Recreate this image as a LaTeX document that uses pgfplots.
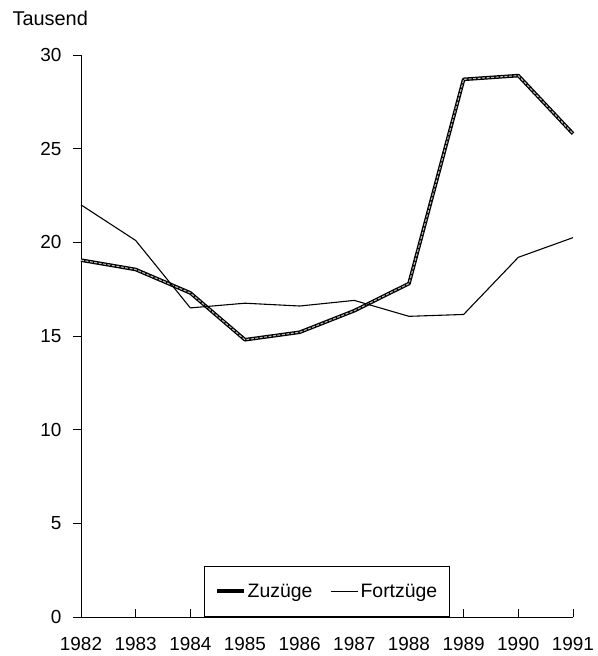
\documentclass[border=0pt]{standalone}
\usepackage{fontspec}
\setmainfont{Liberation Sans}
\usepackage{pgfplots}
\pgfplotsset{compat=1.18}
\begin{document}
\begin{tikzpicture}[x=1bp,y=1bp]
\begin{axis}[
  scale only axis,
  width=492bp, height=562bp,
  xmin=1982, xmax=1991,
  ymin=0, ymax=30,
  axis lines=left,
  axis line style={-, line width=0.7pt},
  xtick={1982,...,1991},
  ytick={0,5,...,30},
  xticklabel style={/pgf/number format/1000 sep={}, yshift=-17bp},
  yticklabel style={xshift=-8bp},
  /pgf/number format/assume math mode=true,
  tick label style={font=\fontsize{19}{21}\selectfont},
  xtick align=inside,
  ytick align=outside,
  major tick length=8bp,
  tick style={black, line width=0.6pt},
  clip=false,
  legend columns=2,
  legend style={at={(0.5,0)}, anchor=south, draw=black, line width=0.6pt,
    font=\fontsize{19.5}{21}\selectfont, inner xsep=10bp, inner ysep=16bp,
    /tikz/every even column/.append style={column sep=16bp}},
  legend image code/.code={\draw[#1] (0bp,0bp) -- (27bp,0bp);},
]
\draw[draw=none] (rel axis cs:0,0) ++(-81bp,-39bp) rectangle ++(592bp,656bp);
\addplot[black, line width=3.6pt, line join=round, forget plot] coordinates {
 (1982,19.05) (1983,18.55) (1984,17.3) (1985,14.8) (1986,15.2)
 (1987,16.35) (1988,17.8) (1989,28.7) (1990,28.9) (1991,25.8)};
\addplot[gray!55, line width=1.1pt, line join=round, dash pattern=on 3pt off 1.5pt, forget plot] coordinates {
 (1982,19.05) (1983,18.55) (1984,17.3) (1985,14.8) (1986,15.2)
 (1987,16.35) (1988,17.8) (1989,28.7) (1990,28.9) (1991,25.8)};
\addplot[black, line width=1.1pt, line join=round, forget plot] coordinates {
 (1982,22.0) (1983,20.1) (1984,16.5) (1985,16.75) (1986,16.6)
 (1987,16.9) (1988,16.05) (1989,16.15) (1990,19.2) (1991,20.25)};
\addlegendimage{black, line width=4pt}
\addlegendentry{Zuzüge}
\addlegendimage{black, line width=1.1pt}
\addlegendentry{Fortzüge}
\node[anchor=base west, font=\fontsize{20}{22}\selectfont] at (rel axis cs:0,1) [xshift=-72bp, yshift=29bp] {Tausend};
\end{axis}
\end{tikzpicture}
\end{document}
